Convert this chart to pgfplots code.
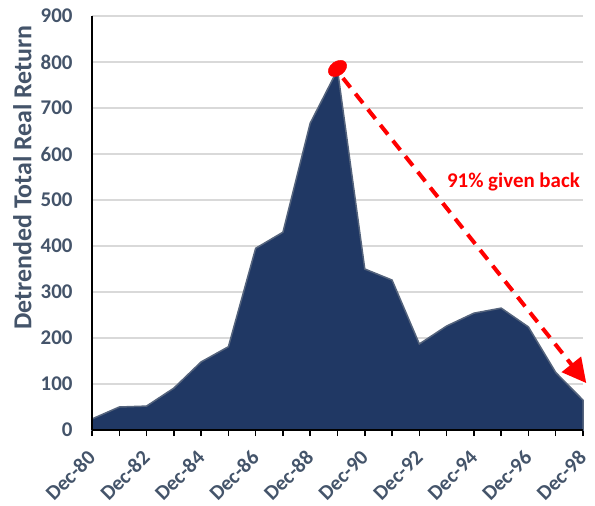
\documentclass[border=0pt]{standalone}
\usepackage{fontspec}
\setmainfont{Carlito}
\usepackage{graphicx}
\usepackage{pgfplots}
\pgfplotsset{compat=1.18}
\usetikzlibrary{arrows.meta}
\definecolor{navy}{RGB}{32,56,100}
\definecolor{edge}{RGB}{85,100,125}
\definecolor{lbl}{RGB}{68,84,106}
\definecolor{gridc}{RGB}{217,217,217}
\newcommand{\rl}[1]{\rotatebox{45}{#1}}
\begin{document}
\begin{tikzpicture}
\begin{axis}[
    scale only axis,
    width=491bp, height=414bp,
    xmin=0, xmax=18, ymin=0, ymax=900,
    axis x line=bottom, axis y line=left,
    axis line style={-, black, line width=1.5bp},
    xtick={0,2,...,18},
    minor xtick={1,3,...,17},
    xticklabels={\rl{Dec-80},\rl{Dec-82},\rl{Dec-84},\rl{Dec-86},\rl{Dec-88},\rl{Dec-90},\rl{Dec-92},\rl{Dec-94},\rl{Dec-96},\rl{Dec-98}},
    ytick={0,100,...,900},
    tick align=outside,
    x tick style={black, line width=1.5bp},
    major tick length=6bp, minor tick length=6bp,
    y tick style={draw=none},
    ymajorgrids,
    grid style={gridc, line width=1.5bp},
    /pgf/number format/assume math mode=true,
    tick label style={font=\fontsize{21}{23}\selectfont\bfseries, text=lbl},
    x tick label style={anchor=north east, inner sep=1bp, xshift=6bp, yshift=-12bp},
    yticklabel style={xshift=-10bp},
    ylabel={Detrended Total Real Return},
    ylabel style={font=\fontsize{26}{28}\selectfont\bfseries, text=lbl, at={(axis description cs:-0.142,0.61)}, anchor=center},
    clip=false,
]
\addplot[fill=navy, draw=edge, line width=1.5bp] coordinates {
    (0,24) (1,50) (2,52) (3,91) (4,148) (5,181) (6,395) (7,430)
    (8,667) (9,783) (10,350) (11,326) (12,187) (13,226) (14,254)
    (15,265) (16,224) (17,125) (18,65)
} \closedcycle;
\draw[black, line width=1.5bp] (axis cs:0,0) -- (axis cs:18,0);
\draw[black, line width=1.5bp] (axis cs:0,0) -- (axis cs:0,900);
\addplot[red, line width=4bp, dash pattern=on 12bp off 8bp,
    -{Triangle[length=24bp, width=24bp]}] coordinates {(9.2,765) (18.12,102)};
\addplot[only marks, red, mark=*, mark size=7bp,
    mark options={rotate=35, xscale=1.45}] coordinates {(9,786)};
\node[text=red, font=\fontsize{21}{23}\selectfont\bfseries] at (axis cs:15.45,539) {91\% given back};
\end{axis}
\pgfresetboundingbox
\useasboundingbox (-92bp,-76bp) rectangle (503bp,430bp);
\end{tikzpicture}
\end{document}
